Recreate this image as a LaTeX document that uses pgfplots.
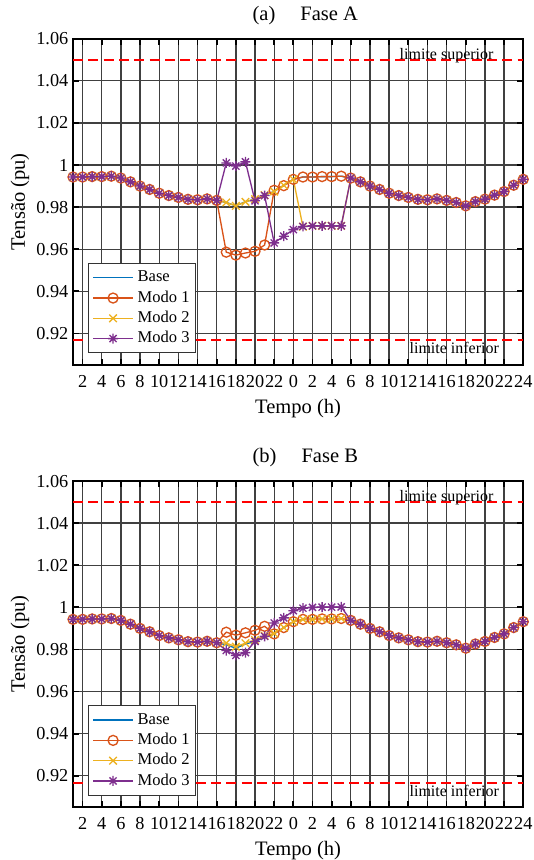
\documentclass[border=0pt]{standalone}
\usepackage{fontspec}
\setmainfont{Liberation Serif}
\usepackage{pgfplots}
\usepackage{pgfplotstable}
\pgfplotsset{compat=1.18}
\definecolor{mblue}{rgb}{0,0.447,0.741}
\definecolor{morange}{rgb}{0.85,0.325,0.098}
\definecolor{myellow}{rgb}{0.929,0.694,0.125}
\definecolor{mpurple}{rgb}{0.494,0.184,0.556}
\pgfdeclareplotmark{ast8}{%
  \pgfpathmoveto{\pgfqpoint{-\pgfplotmarksize}{0pt}}\pgfpathlineto{\pgfqpoint{\pgfplotmarksize}{0pt}}%
  \pgfpathmoveto{\pgfqpoint{0pt}{-\pgfplotmarksize}}\pgfpathlineto{\pgfqpoint{0pt}{\pgfplotmarksize}}%
  \pgfpathmoveto{\pgfqpoint{-.7071\pgfplotmarksize}{-.7071\pgfplotmarksize}}\pgfpathlineto{\pgfqpoint{.7071\pgfplotmarksize}{.7071\pgfplotmarksize}}%
  \pgfpathmoveto{\pgfqpoint{-.7071\pgfplotmarksize}{.7071\pgfplotmarksize}}\pgfpathlineto{\pgfqpoint{.7071\pgfplotmarksize}{-.7071\pgfplotmarksize}}%
  \pgfusepathqstroke}

\pgfplotstableread{
h base m1 m2 m3
1 0.9943 0.9943 0.9943 0.9943
2 0.9943 0.9943 0.9943 0.9943
3 0.9945 0.9945 0.9945 0.9945
4 0.9945 0.9945 0.9945 0.9945
5 0.9947 0.9947 0.9947 0.9947
6 0.9938 0.9938 0.9938 0.9938
7 0.9920 0.9920 0.9920 0.9920
8 0.9900 0.9900 0.9900 0.9900
9 0.9884 0.9884 0.9884 0.9884
10 0.9866 0.9866 0.9866 0.9866
11 0.9855 0.9855 0.9855 0.9855
12 0.9846 0.9846 0.9846 0.9846
13 0.9837 0.9837 0.9837 0.9837
14 0.9835 0.9835 0.9835 0.9835
15 0.9839 0.9839 0.9839 0.9839
16 0.9832 0.9832 0.9832 0.9832
17 0.9822 0.9586 0.9822 1.0010
18 0.9806 0.9572 0.9806 0.9995
19 0.9826 0.9582 0.9825 1.0015
20 0.9838 0.9590 0.9838 0.9830
21 0.9857 0.9620 0.9857 0.9855
22 0.9874 0.9880 0.9874 0.9630
23 0.9904 0.9902 0.9904 0.9662
24 0.9932 0.9932 0.9932 0.9693
25 0.9943 0.9943 0.9707 0.9708
26 0.9943 0.9943 0.9711 0.9711
27 0.9945 0.9945 0.9711 0.9711
28 0.9945 0.9945 0.9711 0.9711
29 0.9947 0.9947 0.9711 0.9711
30 0.9938 0.9938 0.9938 0.9938
31 0.9920 0.9920 0.9920 0.9920
32 0.9900 0.9900 0.9900 0.9900
33 0.9884 0.9884 0.9884 0.9884
34 0.9866 0.9866 0.9866 0.9866
35 0.9855 0.9855 0.9855 0.9855
36 0.9846 0.9846 0.9846 0.9846
37 0.9837 0.9837 0.9837 0.9837
38 0.9835 0.9835 0.9835 0.9835
39 0.9839 0.9839 0.9839 0.9839
40 0.9832 0.9832 0.9832 0.9832
41 0.9822 0.9822 0.9822 0.9822
42 0.9806 0.9806 0.9806 0.9806
43 0.9826 0.9826 0.9826 0.9826
44 0.9838 0.9838 0.9838 0.9838
45 0.9857 0.9857 0.9857 0.9857
46 0.9874 0.9874 0.9874 0.9874
47 0.9904 0.9904 0.9904 0.9904
48 0.9932 0.9932 0.9932 0.9932
}\tabA

\pgfplotstableread{
h base m1 m2 m3
1 0.9943 0.9943 0.9943 0.9943
2 0.9943 0.9943 0.9943 0.9943
3 0.9945 0.9945 0.9945 0.9945
4 0.9945 0.9945 0.9945 0.9945
5 0.9947 0.9947 0.9947 0.9947
6 0.9938 0.9938 0.9938 0.9938
7 0.9920 0.9920 0.9920 0.9920
8 0.9900 0.9900 0.9900 0.9900
9 0.9884 0.9884 0.9884 0.9884
10 0.9866 0.9866 0.9866 0.9866
11 0.9855 0.9855 0.9855 0.9855
12 0.9846 0.9846 0.9846 0.9846
13 0.9837 0.9837 0.9837 0.9837
14 0.9835 0.9835 0.9835 0.9835
15 0.9839 0.9839 0.9839 0.9839
16 0.9832 0.9832 0.9832 0.9832
17 0.9822 0.9882 0.9830 0.9795
18 0.9806 0.9868 0.9813 0.9772
19 0.9826 0.9879 0.9830 0.9785
20 0.9838 0.9891 0.9845 0.9838
21 0.9857 0.9910 0.9865 0.9862
22 0.9874 0.9874 0.9876 0.9926
23 0.9904 0.9904 0.9904 0.9950
24 0.9932 0.9932 0.9932 0.9984
25 0.9943 0.9943 0.9943 0.9996
26 0.9943 0.9943 0.9943 1.0000
27 0.9945 0.9945 0.9945 1.0001
28 0.9945 0.9945 0.9945 1.0001
29 0.9947 0.9947 0.9947 1.0002
30 0.9938 0.9938 0.9938 0.9938
31 0.9920 0.9920 0.9920 0.9920
32 0.9900 0.9900 0.9900 0.9900
33 0.9884 0.9884 0.9884 0.9884
34 0.9866 0.9866 0.9866 0.9866
35 0.9855 0.9855 0.9855 0.9855
36 0.9846 0.9846 0.9846 0.9846
37 0.9837 0.9837 0.9837 0.9837
38 0.9835 0.9835 0.9835 0.9835
39 0.9839 0.9839 0.9839 0.9839
40 0.9832 0.9832 0.9832 0.9832
41 0.9822 0.9822 0.9822 0.9822
42 0.9806 0.9806 0.9806 0.9806
43 0.9826 0.9826 0.9826 0.9826
44 0.9838 0.9838 0.9838 0.9838
45 0.9857 0.9857 0.9857 0.9857
46 0.9874 0.9874 0.9874 0.9874
47 0.9904 0.9904 0.9904 0.9904
48 0.9932 0.9932 0.9932 0.9932
}\tabB

\pgfplotsset{
  myaxis/.style={
    scale only axis, width=337.7pt, height=244.7pt,
    xmin=1, xmax=48, ymin=0.905, ymax=1.06,
    xtick={2,4,...,48},
    xticklabels={2,4,6,8,10,12,14,16,18,20,22,0,2,4,6,8,10,12,14,16,18,20,22,24},
    ytick={0.92,0.94,0.96,0.98,1,1.02,1.04,1.06},
    yticklabels={0.92,0.94,0.96,0.98,1,1.02,1.04,1.06},
    tick label style={font=\fontsize{13.7}{16}\selectfont},
    xticklabel style={yshift=-4.3pt},
    label style={font=\fontsize{15.4}{18}\selectfont},
    xlabel={Tempo (h)}, ylabel={Tensão (pu)},
    xlabel style={at={(axis description cs:0.5,-0.134)}, anchor=center},
    ylabel style={at={(axis description cs:-0.1177,0.5)}, anchor=center},
    title style={at={(axis description cs:0.516,1.0475)}, anchor=center, font=\fontsize{15.4}{18}\selectfont},
    axis line style={line width=1.6pt, black},
    grid=major, major grid style={line width=1pt, black!75},
    tick style={line width=1.3pt, black}, major tick length=4.5pt, tick align=inside,
    clip=false,
    legend cell align=left,
    legend style={at={(axis description cs:0.0326,0.036)}, anchor=south west,
      draw=black!80, line width=0.6pt, fill=white,
      font=\fontsize{12.4}{14}\selectfont,
      inner xsep=3.5pt, inner ysep=3.7pt, row sep=1.2pt,
      nodes={inner sep=1.2pt, text height=8.9pt, text depth=2.7pt},
      /tikz/every odd column/.append style={column sep=2pt}},
    every axis plot/.append style={line width=1pt,
      legend image code/.code={\draw[mark repeat=2,mark phase=2,##1] plot coordinates {(0pt,0pt)(14.75pt,0pt)(29.5pt,0pt)};}},
  }
}

\begin{document}
\begin{tikzpicture}
\useasboundingbox (0,0) rectangle (400.5pt,645pt);
\begin{axis}[myaxis, at={(54.75pt,371.25pt)}, anchor=south west, title={(a)\hspace{18.75pt}Fase A}]
\addplot[red, line width=1.5pt, dash pattern=on 7.5pt off 4pt, forget plot] coordinates {(1,1.05) (48,1.05)};
\addplot[red, line width=1.5pt, dash pattern=on 7.5pt off 4pt, forget plot] coordinates {(1,0.9167) (48,0.9167)};
\addplot[mblue, no marks] table[x=h,y=base]{\tabA};
\addplot[morange, mark=o, mark size=3.75pt] table[x=h,y=m1]{\tabA};
\addplot[myellow, mark=x, mark size=4pt] table[x=h,y=m2]{\tabA};
\addplot[mpurple, mark=ast8, mark size=3.75pt] table[x=h,y=m3]{\tabA};
\legend{Base,Modo 1,Modo 2,Modo 3}
\node[anchor=base, font=\fontsize{12}{14}\selectfont, inner sep=0pt, yshift=0.5pt] at (axis cs:40,1.05) {limite superior};
\node[anchor=base, font=\fontsize{12}{14}\selectfont, inner sep=0pt, yshift=-10pt] at (axis cs:40.8,0.9167) {limite inferior};
\end{axis}
\begin{axis}[myaxis, at={(54.75pt,39.5pt)}, anchor=south west, title={(b)\hspace{18.75pt}Fase B}]
\addplot[red, line width=1.5pt, dash pattern=on 7.5pt off 4pt, forget plot] coordinates {(1,1.05) (48,1.05)};
\addplot[red, line width=1.5pt, dash pattern=on 7.5pt off 4pt, forget plot] coordinates {(1,0.9167) (48,0.9167)};
\addplot[mblue, no marks] table[x=h,y=base]{\tabB};
\addplot[morange, mark=o, mark size=3.75pt] table[x=h,y=m1]{\tabB};
\addplot[myellow, mark=x, mark size=4pt] table[x=h,y=m2]{\tabB};
\addplot[mpurple, mark=ast8, mark size=3.75pt] table[x=h,y=m3]{\tabB};
\legend{Base,Modo 1,Modo 2,Modo 3}
\node[anchor=base, font=\fontsize{12}{14}\selectfont, inner sep=0pt, yshift=0.5pt] at (axis cs:40,1.05) {limite superior};
\node[anchor=base, font=\fontsize{12}{14}\selectfont, inner sep=0pt, yshift=-10pt] at (axis cs:40.8,0.9167) {limite inferior};
\end{axis}
\end{tikzpicture}
\end{document}
